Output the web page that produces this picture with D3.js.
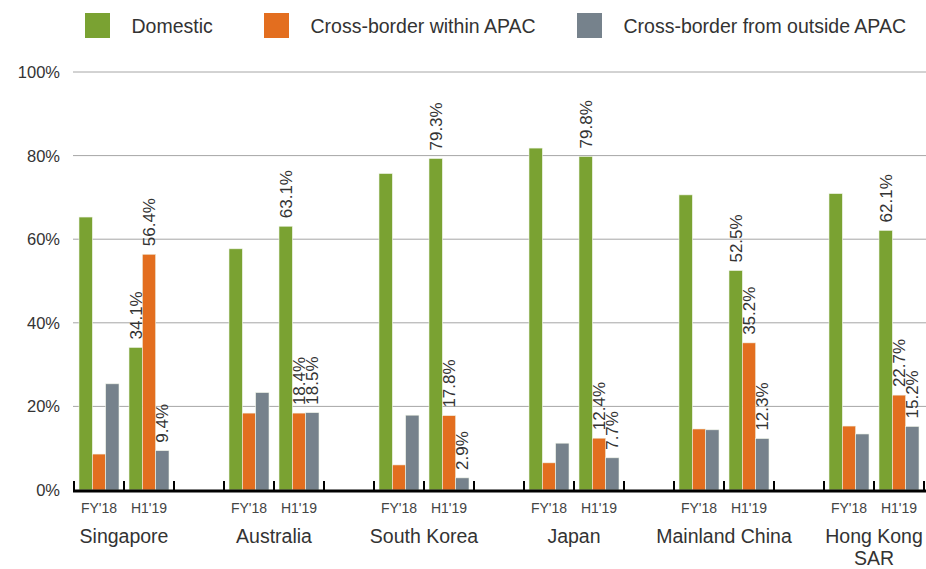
<!DOCTYPE html>
<html>
<head>
<meta charset="utf-8">
<script src="https://cdn.jsdelivr.net/npm/d3@7"></script>
<style>
  html, body { margin: 0; padding: 0; background: #fff; }
  svg { display: block; font-family: "Liberation Sans", Arial, Helvetica, sans-serif; }
</style>
</head>
<body>
<svg id="chart" width="926" height="569"></svg>
<script>
// ---- data ----
const categories = ["Singapore", "Australia", "South Korea", "Japan", "Mainland China", "Hong Kong SAR"];
const periods = ["FY'18", "H1'19"];
const seriesNames = ["Domestic", "Cross-border within APAC", "Cross-border from outside APAC"];
// values in order: category x period
const domestic = [65.3, 34.1, 57.7, 63.1, 75.7, 79.3, 81.8, 79.8, 70.6, 52.5, 70.9, 62.1];
const crossApac = [8.6, 56.4, 18.4, 18.4, 6.0, 17.8, 6.5, 12.4, 14.6, 35.2, 15.3, 22.7];
const outsideApac = [25.4, 9.4, 23.3, 18.5, 17.9, 2.9, 11.2, 7.7, 14.4, 12.3, 13.4, 15.2];
const labelledPeriod = "H1'19";
const yTicks = [0, 20, 40, 60, 80, 100];
const colors = ["#7aa232", "#e36e1f", "#76828c"];

// ---- layout ----
const svg = d3.select("#chart");
const W = 926;
const x0 = 74, x1 = 924, yBase = 490, yTop = 72;

// slots: each category has two period slots, with an empty slot between categories
const slots = [];
categories.forEach((c, ci) => {
  periods.forEach(p => slots.push({ key: c + "|" + p, cat: c, period: p, ci }));
  if (ci < categories.length - 1) slots.push({ key: "gap" + ci, gap: true });
});
const xSlot = d3.scaleBand().domain(slots.map(s => s.key)).range([x0, x1]).padding(0);
const xSeries = d3.scaleBand().domain(seriesNames).range([0, xSlot.bandwidth()])
  .paddingInner(0).paddingOuter(0.375);
const y = d3.scaleLinear().domain([0, 100]).range([yBase, yTop]);

const seriesValues = [domestic, crossApac, outsideApac];
const records = [];
categories.forEach((c, ci) => {
  periods.forEach((p, pi) => {
    const idx = ci * periods.length + pi;
    seriesNames.forEach((s, si) => {
      records.push({ cat: c, period: p, series: s, si, value: seriesValues[si][idx] });
    });
  });
});

// gridlines
svg.append("g").selectAll("line").data(yTicks.filter(t => t > 0)).join("line")
  .attr("x1", 73).attr("x2", W)
  .attr("y1", d => y(d)).attr("y2", d => y(d))
  .attr("stroke", "#a6a6a6").attr("stroke-width", 1);

// y labels
svg.append("g").selectAll("text").data(yTicks).join("text")
  .attr("x", 60).attr("y", d => y(d)).attr("dy", "0.36em")
  .attr("text-anchor", "end").attr("font-size", "16.5px").attr("fill", "#333")
  .text(d => d + "%");

// bars
svg.append("g").selectAll("rect").data(records).join("rect")
  .attr("x", d => xSlot(d.cat + "|" + d.period) + xSeries(d.series))
  .attr("width", xSeries.bandwidth())
  .attr("y", d => y(d.value))
  .attr("height", d => y(0) - y(d.value))
  .attr("fill", d => colors[d.si])
  .attr("stroke", "#eef3e6").attr("stroke-width", 0.6);

// value labels (H1'19 only)
svg.append("g").selectAll("text").data(records.filter(d => d.period === labelledPeriod)).join("text")
  .attr("transform", d => {
    const cx = xSlot(d.cat + "|" + d.period) + xSeries(d.series) + xSeries.bandwidth() / 2;
    return `translate(${cx},${y(d.value) - 8}) rotate(-90)`;
  })
  .attr("dy", "0.36em")
  .attr("text-anchor", "start").attr("font-size", "17px").attr("fill", "#333")
  .text(d => d.value.toFixed(1) + "%");

// baseline and ticks
svg.append("line").attr("x1", 73).attr("x2", W).attr("y1", yBase + 1).attr("y2", yBase + 1)
  .attr("stroke", "#000").attr("stroke-width", 3);
const tickXs = slots.map(s => xSlot(s.key)).concat([xSlot(slots[slots.length - 1].key) + xSlot.bandwidth()]);
svg.append("g").selectAll("line").data(tickXs).join("line")
  .attr("x1", d => d).attr("x2", d => d)
  .attr("y1", yBase - 9).attr("y2", yBase)
  .attr("stroke", "#000").attr("stroke-width", 2);

// period labels
svg.append("g").selectAll("text").data(slots.filter(s => !s.gap)).join("text")
  .attr("x", d => xSlot(d.key) + xSlot.bandwidth() / 2).attr("y", 513)
  .attr("text-anchor", "middle").attr("font-size", "14px").attr("fill", "#444")
  .text(d => d.period);

// category labels
const catText = svg.append("g").selectAll("text").data(categories).join("text")
  .attr("text-anchor", "middle").attr("font-size", "19.5px").attr("fill", "#333")
  .attr("x", c => xSlot(c + "|" + periods[0]) + xSlot.bandwidth())
  .attr("y", 543);
catText.each(function(c) {
  const t = d3.select(this);
  const parts = c === "Hong Kong SAR" ? ["Hong Kong", "SAR"] : [c];
  const cx = t.attr("x");
  parts.forEach((p, i) => t.append("tspan").attr("x", cx).attr("dy", i === 0 ? 0 : 22).text(p));
});

// legend
const legendX = [85, 264, 577];
const lg = svg.append("g").selectAll("g").data(seriesNames).join("g")
  .attr("transform", (d, i) => `translate(${legendX[i]},13)`);
lg.append("rect").attr("width", 25).attr("height", 25).attr("fill", (d, i) => colors[i]);
lg.append("text").attr("x", 46.5).attr("y", 19.5).attr("font-size", "19.5px").attr("fill", "#333")
  .text(d => d);
</script>
</body>
</html>
